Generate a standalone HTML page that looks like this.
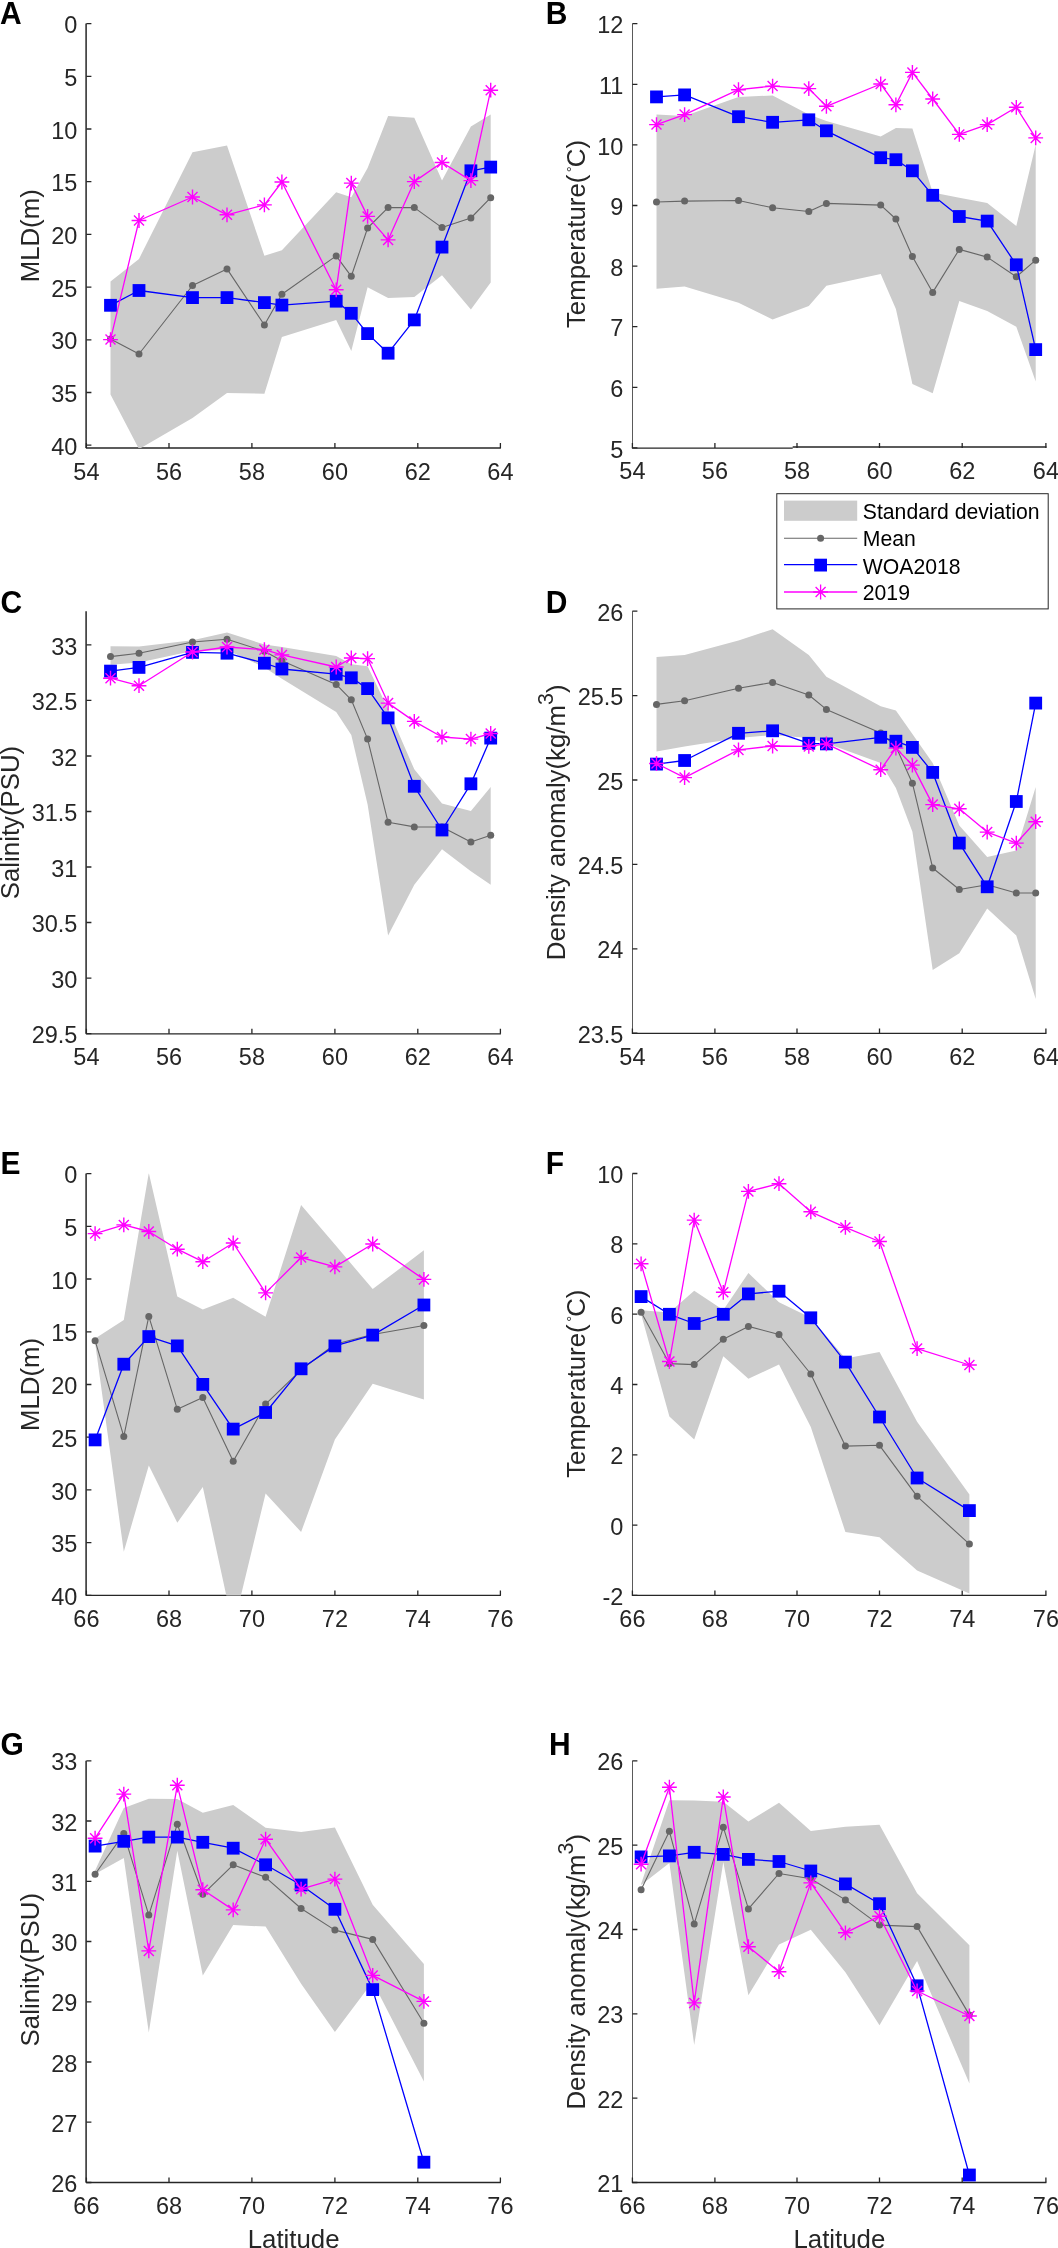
<!DOCTYPE html>
<html><head><meta charset="utf-8"><style>
html,body{margin:0;padding:0;background:#fff;}
body{width:1058px;height:2248px;overflow:hidden;}
svg{display:block;font-family:"Liberation Sans", sans-serif;will-change:transform;}
</style></head><body>
<svg width="1058" height="2248" viewBox="0 0 1058 2248">
<rect width="1058" height="2248" fill="#fff"/>
<defs>
<clipPath id="c0"><rect x="86.4" y="23.6" width="414.5" height="424.4"/></clipPath>
<clipPath id="c1"><rect x="632.4" y="23.7" width="414" height="424.2"/></clipPath>
<clipPath id="c2"><rect x="86.4" y="611.2" width="414.5" height="422.6"/></clipPath>
<clipPath id="c3"><rect x="632.4" y="611.2" width="414" height="422.2"/></clipPath>
<clipPath id="c4"><rect x="86.4" y="1173.6" width="414.5" height="421.8"/></clipPath>
<clipPath id="c5"><rect x="632.4" y="1173.5" width="414" height="421.9"/></clipPath>
<clipPath id="c6"><rect x="86.4" y="1760.8" width="414.5" height="421.7"/></clipPath>
<clipPath id="c7"><rect x="632.4" y="1760.8" width="414" height="421.7"/></clipPath>
</defs>
<path fill="none" stroke="#262626" stroke-width="1.5" d="M86.1 23.6V448"/>
<path fill="none" stroke="#262626" stroke-width="1.3" d="M85.9 448H500.9"/>
<path fill="none" stroke="#262626" stroke-width="1.3" d="M86.4 23.6h5M86.4 76.3h5M86.4 129h5M86.4 181.7h5M86.4 234.4h5M86.4 287.1h5M86.4 339.8h5M86.4 392.5h5M86.4 445.2h5M86.4 448v-5M169 448v-5M251.9 448v-5M334.9 448v-5M417.8 448v-5M500.4 448v-5"/>
<g clip-path="url(#c0)">
<path fill="#cccccc" d="M110.5 281.4L139 258.9L192.5 152.2L227 145.6L264.4 255.8L281.9 250.2L336.2 192.3L351.3 197.2L367.6 168.1L388.1 116.1L414.3 117.8L442 180.6L470.9 126.5L490.7 114.5L490.7 282.5L470.9 309.5L442 275.2L414.3 297L388.1 298.1L367.6 287.3L351.3 351.1L336.2 320L281.9 336.9L264.4 393.7L227 393L192.5 418L139 449.1L110.5 394.5Z"/>
<path fill="none" stroke="#666666" stroke-width="1.1" stroke-linejoin="round" d="M110.5 339L139 354L192.5 285.5L227 268.9L264.4 325L281.9 294.3L336.2 255.9L351.3 276.3L367.6 228L388.1 207.6L414.3 207.6L442 227.6L470.9 218L490.7 197.7"/>
<g fill="#666666"><circle cx="110.5" cy="339" r="3.5"/><circle cx="139" cy="354" r="3.5"/><circle cx="192.5" cy="285.5" r="3.5"/><circle cx="227" cy="268.9" r="3.5"/><circle cx="264.4" cy="325" r="3.5"/><circle cx="281.9" cy="294.3" r="3.5"/><circle cx="336.2" cy="255.9" r="3.5"/><circle cx="351.3" cy="276.3" r="3.5"/><circle cx="367.6" cy="228" r="3.5"/><circle cx="388.1" cy="207.6" r="3.5"/><circle cx="414.3" cy="207.6" r="3.5"/><circle cx="442" cy="227.6" r="3.5"/><circle cx="470.9" cy="218" r="3.5"/><circle cx="490.7" cy="197.7" r="3.5"/></g>
<path fill="none" stroke="#0000ff" stroke-width="1.3" stroke-linejoin="round" d="M110.5 305.3L139 290.5L192.5 297.6L227 297.6L264.4 302.6L281.9 305.1L336.2 301.2L351.3 313.3L367.6 333.6L388.1 353.2L414.3 319.9L442 247.1L470.9 170.8L490.7 167.1"/>
<g fill="#0000ff"><rect x="104.1" y="298.9" width="12.8" height="12.8"/><rect x="132.6" y="284.1" width="12.8" height="12.8"/><rect x="186.1" y="291.2" width="12.8" height="12.8"/><rect x="220.6" y="291.2" width="12.8" height="12.8"/><rect x="258" y="296.2" width="12.8" height="12.8"/><rect x="275.5" y="298.7" width="12.8" height="12.8"/><rect x="329.8" y="294.8" width="12.8" height="12.8"/><rect x="344.9" y="306.9" width="12.8" height="12.8"/><rect x="361.2" y="327.2" width="12.8" height="12.8"/><rect x="381.7" y="346.8" width="12.8" height="12.8"/><rect x="407.9" y="313.5" width="12.8" height="12.8"/><rect x="435.6" y="240.7" width="12.8" height="12.8"/><rect x="464.5" y="164.4" width="12.8" height="12.8"/><rect x="484.3" y="160.7" width="12.8" height="12.8"/></g>
<path fill="none" stroke="#ff00ff" stroke-width="1.3" stroke-linejoin="round" d="M110.5 339.6L139 220.5L192.5 197L227 214.8L264.4 204.9L281.9 182L336.2 289.8L351.3 183.1L367.6 216.4L388.1 239.9L414.3 181.6L442 162.5L470.9 180.6L490.7 90.2"/>
<path fill="none" stroke="#ff00ff" stroke-width="1.4" d="M103.1 339.6H117.9M110.5 332.2V347M105.5 334.6L115.5 344.6M105.5 344.6L115.5 334.6M131.6 220.5H146.4M139 213.1V227.9M134 215.5L144 225.5M134 225.5L144 215.5M185.1 197H199.9M192.5 189.6V204.4M187.5 192L197.5 202M187.5 202L197.5 192M219.6 214.8H234.4M227 207.4V222.2M222 209.8L232 219.8M222 219.8L232 209.8M257 204.9H271.8M264.4 197.5V212.3M259.4 199.9L269.4 209.9M259.4 209.9L269.4 199.9M274.5 182H289.3M281.9 174.6V189.4M276.9 177L286.9 187M276.9 187L286.9 177M328.8 289.8H343.6M336.2 282.4V297.2M331.2 284.8L341.2 294.8M331.2 294.8L341.2 284.8M343.9 183.1H358.7M351.3 175.7V190.5M346.3 178.1L356.3 188.1M346.3 188.1L356.3 178.1M360.2 216.4H375M367.6 209V223.8M362.6 211.4L372.6 221.4M362.6 221.4L372.6 211.4M380.7 239.9H395.5M388.1 232.5V247.3M383.1 234.9L393.1 244.9M383.1 244.9L393.1 234.9M406.9 181.6H421.7M414.3 174.2V189M409.3 176.6L419.3 186.6M409.3 186.6L419.3 176.6M434.6 162.5H449.4M442 155.1V169.9M437 157.5L447 167.5M437 167.5L447 157.5M463.5 180.6H478.3M470.9 173.2V188M465.9 175.6L475.9 185.6M465.9 185.6L475.9 175.6M483.3 90.2H498.1M490.7 82.8V97.6M485.7 85.2L495.7 95.2M485.7 95.2L495.7 85.2"/>
</g>
<g fill="#262626" font-size="23.5" text-anchor="end">
<text x="77.4" y="33.2">0</text>
<text x="77.4" y="85.9">5</text>
<text x="77.4" y="138.6">10</text>
<text x="77.4" y="191.3">15</text>
<text x="77.4" y="244">20</text>
<text x="77.4" y="296.7">25</text>
<text x="77.4" y="349.4">30</text>
<text x="77.4" y="402.1">35</text>
<text x="77.4" y="454.8">40</text>
</g>
<g fill="#262626" font-size="23.5" text-anchor="middle">
<text x="86.4" y="479.5">54</text>
<text x="169" y="479.5">56</text>
<text x="251.9" y="479.5">58</text>
<text x="334.9" y="479.5">60</text>
<text x="417.8" y="479.5">62</text>
<text x="500.4" y="479.5">64</text>
</g>
<text fill="#262626" font-size="25.8" text-anchor="middle" transform="translate(38.8 235.8) rotate(-90)">MLD(m)</text>
<text transform="translate(0 24) scale(1 1.035)" font-size="30.0" font-weight="bold" fill="#000">A</text>
<path fill="none" stroke="#5a5a5a" stroke-width="1" d="M632.5 23.7V447.9"/>
<path fill="none" stroke="#262626" stroke-width="1.3" d="M631.9 448.2H792.7M792.7 447H1046.4"/>
<path fill="none" stroke="#262626" stroke-width="1.3" d="M632.4 447.9h5M632.4 387.3h5M632.4 326.7h5M632.4 266.1h5M632.4 205.5h5M632.4 144.9h5M632.4 84.3h5M632.4 23.7h5M632.4 447.9v-5M714.9 447.9v-5M797 447.9v-5M879.5 447.9v-5M962.2 447.9v-5M1045.9 447.9v-5"/>
<g clip-path="url(#c1)">
<path fill="#cccccc" d="M656.5 114.6L684.6 116.1L738.5 96.9L772.6 95.5L808.8 114.6L826.4 120.9L880.7 136.4L895.9 128.1L912.4 128.5L932.7 192.6L959.3 197.8L987.2 203L1016.3 225.9L1035.7 144.8L1035.7 381.4L1016.3 326.7L987.2 311.1L959.3 301.1L932.7 393.3L912.4 383.9L895.9 309L880.7 274.1L826.4 285.7L808.8 305.9L772.6 319.4L738.5 302.8L684.6 286.6L656.5 288.7Z"/>
<path fill="none" stroke="#666666" stroke-width="1.1" stroke-linejoin="round" d="M656.5 202L684.6 201.1L738.5 200.5L772.6 207.8L808.8 211.5L826.4 203.4L880.7 205.1L895.9 219L912.4 256.4L932.7 292.4L959.3 249.4L987.2 257.1L1016.3 276.8L1035.7 260.2"/>
<g fill="#666666"><circle cx="656.5" cy="202" r="3.5"/><circle cx="684.6" cy="201.1" r="3.5"/><circle cx="738.5" cy="200.5" r="3.5"/><circle cx="772.6" cy="207.8" r="3.5"/><circle cx="808.8" cy="211.5" r="3.5"/><circle cx="826.4" cy="203.4" r="3.5"/><circle cx="880.7" cy="205.1" r="3.5"/><circle cx="895.9" cy="219" r="3.5"/><circle cx="912.4" cy="256.4" r="3.5"/><circle cx="932.7" cy="292.4" r="3.5"/><circle cx="959.3" cy="249.4" r="3.5"/><circle cx="987.2" cy="257.1" r="3.5"/><circle cx="1016.3" cy="276.8" r="3.5"/><circle cx="1035.7" cy="260.2" r="3.5"/></g>
<path fill="none" stroke="#0000ff" stroke-width="1.3" stroke-linejoin="round" d="M656.5 96.9L684.6 94.9L738.5 116.7L772.6 122.3L808.8 119.8L826.4 130.8L880.7 157.7L895.9 159.7L912.4 170.8L932.7 195.3L959.3 216.5L987.2 221.1L1016.3 264.8L1035.7 349.6"/>
<g fill="#0000ff"><rect x="650.1" y="90.5" width="12.8" height="12.8"/><rect x="678.2" y="88.5" width="12.8" height="12.8"/><rect x="732.1" y="110.3" width="12.8" height="12.8"/><rect x="766.2" y="115.9" width="12.8" height="12.8"/><rect x="802.4" y="113.4" width="12.8" height="12.8"/><rect x="820" y="124.4" width="12.8" height="12.8"/><rect x="874.3" y="151.3" width="12.8" height="12.8"/><rect x="889.5" y="153.3" width="12.8" height="12.8"/><rect x="906" y="164.4" width="12.8" height="12.8"/><rect x="926.3" y="188.9" width="12.8" height="12.8"/><rect x="952.9" y="210.1" width="12.8" height="12.8"/><rect x="980.8" y="214.7" width="12.8" height="12.8"/><rect x="1009.9" y="258.4" width="12.8" height="12.8"/><rect x="1029.3" y="343.2" width="12.8" height="12.8"/></g>
<path fill="none" stroke="#ff00ff" stroke-width="1.3" stroke-linejoin="round" d="M656.5 124.6L684.6 114.6L738.5 89.7L772.6 86.1L808.8 88.6L826.4 106.3L880.7 84L895.9 104.8L912.4 72.4L932.7 99L959.3 134.4L987.2 124.6L1016.3 107.3L1035.7 137.9"/>
<path fill="none" stroke="#ff00ff" stroke-width="1.4" d="M649.1 124.6H663.9M656.5 117.2V132M651.5 119.6L661.5 129.6M651.5 129.6L661.5 119.6M677.2 114.6H692M684.6 107.2V122M679.6 109.6L689.6 119.6M679.6 119.6L689.6 109.6M731.1 89.7H745.9M738.5 82.3V97.1M733.5 84.7L743.5 94.7M733.5 94.7L743.5 84.7M765.2 86.1H780M772.6 78.7V93.5M767.6 81.1L777.6 91.1M767.6 91.1L777.6 81.1M801.4 88.6H816.2M808.8 81.2V96M803.8 83.6L813.8 93.6M803.8 93.6L813.8 83.6M819 106.3H833.8M826.4 98.9V113.7M821.4 101.3L831.4 111.3M821.4 111.3L831.4 101.3M873.3 84H888.1M880.7 76.6V91.4M875.7 79L885.7 89M875.7 89L885.7 79M888.5 104.8H903.3M895.9 97.4V112.2M890.9 99.8L900.9 109.8M890.9 109.8L900.9 99.8M905 72.4H919.8M912.4 65V79.8M907.4 67.4L917.4 77.4M907.4 77.4L917.4 67.4M925.3 99H940.1M932.7 91.6V106.4M927.7 94L937.7 104M927.7 104L937.7 94M951.9 134.4H966.7M959.3 127V141.8M954.3 129.4L964.3 139.4M954.3 139.4L964.3 129.4M979.8 124.6H994.6M987.2 117.2V132M982.2 119.6L992.2 129.6M982.2 129.6L992.2 119.6M1008.9 107.3H1023.7M1016.3 99.9V114.7M1011.3 102.3L1021.3 112.3M1011.3 112.3L1021.3 102.3M1028.3 137.9H1043.1M1035.7 130.5V145.3M1030.7 132.9L1040.7 142.9M1030.7 142.9L1040.7 132.9"/>
</g>
<g fill="#262626" font-size="23.5" text-anchor="end">
<text x="623.4" y="457.5">5</text>
<text x="623.4" y="396.9">6</text>
<text x="623.4" y="336.3">7</text>
<text x="623.4" y="275.7">8</text>
<text x="623.4" y="215.1">9</text>
<text x="623.4" y="154.5">10</text>
<text x="623.4" y="93.9">11</text>
<text x="623.4" y="33.3">12</text>
</g>
<g fill="#262626" font-size="23.5" text-anchor="middle">
<text x="632.4" y="479.4">54</text>
<text x="714.9" y="479.4">56</text>
<text x="797" y="479.4">58</text>
<text x="879.5" y="479.4">60</text>
<text x="962.2" y="479.4">62</text>
<text x="1045.9" y="479.4">64</text>
</g>
<text fill="#262626" font-size="25.8" text-anchor="middle" transform="translate(584.9 234) rotate(-90)">Temperature(<tspan font-size="15" dx="2.5" dy="-8.2">°</tspan><tspan dx="-1" dy="8.2">C)</tspan></text>
<text transform="translate(545.8 24) scale(1 1.035)" font-size="30.0" font-weight="bold" fill="#000">B</text>
<path fill="none" stroke="#262626" stroke-width="1.5" d="M86.1 611.2V1033.8"/>
<path fill="none" stroke="#262626" stroke-width="1.3" d="M85.9 1033.8H500.9"/>
<path fill="none" stroke="#262626" stroke-width="1.3" d="M86.4 1033.6h5M86.4 978.1h5M86.4 922.5h5M86.4 867h5M86.4 811.5h5M86.4 756h5M86.4 700.4h5M86.4 644.9h5M86.4 1033.8v-5M169 1033.8v-5M251.9 1033.8v-5M334.9 1033.8v-5M417.8 1033.8v-5M500.4 1033.8v-5"/>
<g clip-path="url(#c2)">
<path fill="#cccccc" d="M110.5 646.2L139 646.6L192.5 640.2L227 632.5L264.4 644.5L281.9 647L336.2 655.9L351.3 664.3L367.6 666.3L388.1 709L414.3 769.3L442 803.6L470.9 810.9L490.7 787L490.7 884.7L470.9 871.2L442 849.3L414.3 884.7L388.1 935.6L367.6 804.6L351.3 735L336.2 712.1L281.9 678.8L264.4 667.4L227 650L192.5 651L139 662.5L110.5 664.7Z"/>
<path fill="none" stroke="#666666" stroke-width="1.1" stroke-linejoin="round" d="M110.5 656.6L139 653.2L192.5 642L227 639.3L264.4 651.2L281.9 660.7L336.2 684.4L351.3 699.8L367.6 739.1L388.1 822.3L414.3 826.9L442 827L470.9 842.1L490.7 835.2"/>
<g fill="#666666"><circle cx="110.5" cy="656.6" r="3.5"/><circle cx="139" cy="653.2" r="3.5"/><circle cx="192.5" cy="642" r="3.5"/><circle cx="227" cy="639.3" r="3.5"/><circle cx="264.4" cy="651.2" r="3.5"/><circle cx="281.9" cy="660.7" r="3.5"/><circle cx="336.2" cy="684.4" r="3.5"/><circle cx="351.3" cy="699.8" r="3.5"/><circle cx="367.6" cy="739.1" r="3.5"/><circle cx="388.1" cy="822.3" r="3.5"/><circle cx="414.3" cy="826.9" r="3.5"/><circle cx="442" cy="827" r="3.5"/><circle cx="470.9" cy="842.1" r="3.5"/><circle cx="490.7" cy="835.2" r="3.5"/></g>
<path fill="none" stroke="#0000ff" stroke-width="1.3" stroke-linejoin="round" d="M110.5 671.1L139 667.4L192.5 652.4L227 653.2L264.4 663.2L281.9 669L336.2 674.2L351.3 677.8L367.6 688.6L388.1 717.9L414.3 786.3L442 830L470.9 783.8L490.7 738.1"/>
<g fill="#0000ff"><rect x="104.1" y="664.7" width="12.8" height="12.8"/><rect x="132.6" y="661" width="12.8" height="12.8"/><rect x="186.1" y="646" width="12.8" height="12.8"/><rect x="220.6" y="646.8" width="12.8" height="12.8"/><rect x="258" y="656.8" width="12.8" height="12.8"/><rect x="275.5" y="662.6" width="12.8" height="12.8"/><rect x="329.8" y="667.8" width="12.8" height="12.8"/><rect x="344.9" y="671.4" width="12.8" height="12.8"/><rect x="361.2" y="682.2" width="12.8" height="12.8"/><rect x="381.7" y="711.5" width="12.8" height="12.8"/><rect x="407.9" y="779.9" width="12.8" height="12.8"/><rect x="435.6" y="823.6" width="12.8" height="12.8"/><rect x="464.5" y="777.4" width="12.8" height="12.8"/><rect x="484.3" y="731.7" width="12.8" height="12.8"/></g>
<path fill="none" stroke="#ff00ff" stroke-width="1.3" stroke-linejoin="round" d="M110.5 678.2L139 685.7L192.5 652L227 647L264.4 649.7L281.9 654.9L336.2 667L351.3 658L367.6 658.6L388.1 703.1L414.3 721.4L442 737L470.9 739.1L490.7 733.5"/>
<path fill="none" stroke="#ff00ff" stroke-width="1.4" d="M103.1 678.2H117.9M110.5 670.8V685.6M105.5 673.2L115.5 683.2M105.5 683.2L115.5 673.2M131.6 685.7H146.4M139 678.3V693.1M134 680.7L144 690.7M134 690.7L144 680.7M185.1 652H199.9M192.5 644.6V659.4M187.5 647L197.5 657M187.5 657L197.5 647M219.6 647H234.4M227 639.6V654.4M222 642L232 652M222 652L232 642M257 649.7H271.8M264.4 642.3V657.1M259.4 644.7L269.4 654.7M259.4 654.7L269.4 644.7M274.5 654.9H289.3M281.9 647.5V662.3M276.9 649.9L286.9 659.9M276.9 659.9L286.9 649.9M328.8 667H343.6M336.2 659.6V674.4M331.2 662L341.2 672M331.2 672L341.2 662M343.9 658H358.7M351.3 650.6V665.4M346.3 653L356.3 663M346.3 663L356.3 653M360.2 658.6H375M367.6 651.2V666M362.6 653.6L372.6 663.6M362.6 663.6L372.6 653.6M380.7 703.1H395.5M388.1 695.7V710.5M383.1 698.1L393.1 708.1M383.1 708.1L393.1 698.1M406.9 721.4H421.7M414.3 714V728.8M409.3 716.4L419.3 726.4M409.3 726.4L419.3 716.4M434.6 737H449.4M442 729.6V744.4M437 732L447 742M437 742L447 732M463.5 739.1H478.3M470.9 731.7V746.5M465.9 734.1L475.9 744.1M465.9 744.1L475.9 734.1M483.3 733.5H498.1M490.7 726.1V740.9M485.7 728.5L495.7 738.5M485.7 738.5L495.7 728.5"/>
</g>
<g fill="#262626" font-size="23.5" text-anchor="end">
<text x="77.4" y="1043.2">29.5</text>
<text x="77.4" y="987.7">30</text>
<text x="77.4" y="932.1">30.5</text>
<text x="77.4" y="876.6">31</text>
<text x="77.4" y="821.1">31.5</text>
<text x="77.4" y="765.6">32</text>
<text x="77.4" y="710">32.5</text>
<text x="77.4" y="654.5">33</text>
</g>
<g fill="#262626" font-size="23.5" text-anchor="middle">
<text x="86.4" y="1065.3">54</text>
<text x="169" y="1065.3">56</text>
<text x="251.9" y="1065.3">58</text>
<text x="334.9" y="1065.3">60</text>
<text x="417.8" y="1065.3">62</text>
<text x="500.4" y="1065.3">64</text>
</g>
<text fill="#262626" font-size="25.8" text-anchor="middle" transform="translate(18.9 822.5) rotate(-90)">Salinity(PSU)</text>
<text transform="translate(0.6 612.8) scale(1 1.035)" font-size="30.0" font-weight="bold" fill="#000">C</text>
<path fill="none" stroke="#5a5a5a" stroke-width="1" d="M632.5 611.2V1033.4"/>
<path fill="none" stroke="#262626" stroke-width="1.3" d="M631.9 1033.4H1046.4"/>
<path fill="none" stroke="#262626" stroke-width="1.3" d="M632.4 1033.2h5M632.4 948.8h5M632.4 864.4h5M632.4 780h5M632.4 695.6h5M632.4 611.2h5M632.4 1033.4v-5M714.9 1033.4v-5M797 1033.4v-5M879.5 1033.4v-5M962.2 1033.4v-5M1045.9 1033.4v-5"/>
<g clip-path="url(#c3)">
<path fill="#cccccc" d="M656.5 657L684.6 654.9L738.5 640.4L772.6 629.3L808.8 654.9L826.4 676.7L880.7 706.3L895.9 710.6L912.4 733.9L932.7 763L959.3 825.4L987.2 857L1016.3 850.4L1035.7 787L1035.7 999L1016.3 935.6L987.2 908.6L959.3 953.3L932.7 970L912.4 831.7L895.9 788L880.7 763L826.4 743.3L808.8 738.1L772.6 735L738.5 738.1L684.6 746.4L656.5 751.6Z"/>
<path fill="none" stroke="#666666" stroke-width="1.1" stroke-linejoin="round" d="M656.5 704.4L684.6 700.7L738.5 688.2L772.6 682.4L808.8 695L826.4 709.4L880.7 733L895.9 746.4L912.4 783.2L932.7 868L959.3 889.5L987.2 884.7L1016.3 893L1035.7 893"/>
<g fill="#666666"><circle cx="656.5" cy="704.4" r="3.5"/><circle cx="684.6" cy="700.7" r="3.5"/><circle cx="738.5" cy="688.2" r="3.5"/><circle cx="772.6" cy="682.4" r="3.5"/><circle cx="808.8" cy="695" r="3.5"/><circle cx="826.4" cy="709.4" r="3.5"/><circle cx="880.7" cy="733" r="3.5"/><circle cx="895.9" cy="746.4" r="3.5"/><circle cx="912.4" cy="783.2" r="3.5"/><circle cx="932.7" cy="868" r="3.5"/><circle cx="959.3" cy="889.5" r="3.5"/><circle cx="987.2" cy="884.7" r="3.5"/><circle cx="1016.3" cy="893" r="3.5"/><circle cx="1035.7" cy="893" r="3.5"/></g>
<path fill="none" stroke="#0000ff" stroke-width="1.3" stroke-linejoin="round" d="M656.5 764.1L684.6 760.5L738.5 733.3L772.6 730.8L808.8 743.3L826.4 743.9L880.7 737.3L895.9 741.2L912.4 747.4L932.7 772.4L959.3 843.1L987.2 886.8L1016.3 801.5L1035.7 703.1"/>
<g fill="#0000ff"><rect x="650.1" y="757.7" width="12.8" height="12.8"/><rect x="678.2" y="754.1" width="12.8" height="12.8"/><rect x="732.1" y="726.9" width="12.8" height="12.8"/><rect x="766.2" y="724.4" width="12.8" height="12.8"/><rect x="802.4" y="736.9" width="12.8" height="12.8"/><rect x="820" y="737.5" width="12.8" height="12.8"/><rect x="874.3" y="730.9" width="12.8" height="12.8"/><rect x="889.5" y="734.8" width="12.8" height="12.8"/><rect x="906" y="741" width="12.8" height="12.8"/><rect x="926.3" y="766" width="12.8" height="12.8"/><rect x="952.9" y="836.7" width="12.8" height="12.8"/><rect x="980.8" y="880.4" width="12.8" height="12.8"/><rect x="1009.9" y="795.1" width="12.8" height="12.8"/><rect x="1029.3" y="696.7" width="12.8" height="12.8"/></g>
<path fill="none" stroke="#ff00ff" stroke-width="1.3" stroke-linejoin="round" d="M656.5 763.5L684.6 777.6L738.5 749.9L772.6 746L808.8 746.4L826.4 743.9L880.7 769.7L895.9 748.1L912.4 765.1L932.7 804.6L959.3 808.8L987.2 832.1L1016.3 843.1L1035.7 821.7"/>
<path fill="none" stroke="#ff00ff" stroke-width="1.4" d="M649.1 763.5H663.9M656.5 756.1V770.9M651.5 758.5L661.5 768.5M651.5 768.5L661.5 758.5M677.2 777.6H692M684.6 770.2V785M679.6 772.6L689.6 782.6M679.6 782.6L689.6 772.6M731.1 749.9H745.9M738.5 742.5V757.3M733.5 744.9L743.5 754.9M733.5 754.9L743.5 744.9M765.2 746H780M772.6 738.6V753.4M767.6 741L777.6 751M767.6 751L777.6 741M801.4 746.4H816.2M808.8 739V753.8M803.8 741.4L813.8 751.4M803.8 751.4L813.8 741.4M819 743.9H833.8M826.4 736.5V751.3M821.4 738.9L831.4 748.9M821.4 748.9L831.4 738.9M873.3 769.7H888.1M880.7 762.3V777.1M875.7 764.7L885.7 774.7M875.7 774.7L885.7 764.7M888.5 748.1H903.3M895.9 740.7V755.5M890.9 743.1L900.9 753.1M890.9 753.1L900.9 743.1M905 765.1H919.8M912.4 757.7V772.5M907.4 760.1L917.4 770.1M907.4 770.1L917.4 760.1M925.3 804.6H940.1M932.7 797.2V812M927.7 799.6L937.7 809.6M927.7 809.6L937.7 799.6M951.9 808.8H966.7M959.3 801.4V816.2M954.3 803.8L964.3 813.8M954.3 813.8L964.3 803.8M979.8 832.1H994.6M987.2 824.7V839.5M982.2 827.1L992.2 837.1M982.2 837.1L992.2 827.1M1008.9 843.1H1023.7M1016.3 835.7V850.5M1011.3 838.1L1021.3 848.1M1011.3 848.1L1021.3 838.1M1028.3 821.7H1043.1M1035.7 814.3V829.1M1030.7 816.7L1040.7 826.7M1030.7 826.7L1040.7 816.7"/>
</g>
<g fill="#262626" font-size="23.5" text-anchor="end">
<text x="623.4" y="1042.8">23.5</text>
<text x="623.4" y="958.4">24</text>
<text x="623.4" y="874">24.5</text>
<text x="623.4" y="789.6">25</text>
<text x="623.4" y="705.2">25.5</text>
<text x="623.4" y="620.8">26</text>
</g>
<g fill="#262626" font-size="23.5" text-anchor="middle">
<text x="632.4" y="1064.9">54</text>
<text x="714.9" y="1064.9">56</text>
<text x="797" y="1064.9">58</text>
<text x="879.5" y="1064.9">60</text>
<text x="962.2" y="1064.9">62</text>
<text x="1045.9" y="1064.9">64</text>
</g>
<text fill="#262626" font-size="25.8" text-anchor="middle" transform="translate(564.9 822.3) rotate(-90)">Density anomaly(kg/m<tspan font-size="21.5" dy="-12">3</tspan><tspan dy="12">)</tspan></text>
<text transform="translate(545.8 612.8) scale(1 1.035)" font-size="30.0" font-weight="bold" fill="#000">D</text>
<path fill="none" stroke="#262626" stroke-width="1.5" d="M86.1 1173.6V1595.4"/>
<path fill="none" stroke="#262626" stroke-width="1.3" d="M85.9 1595.4H500.9"/>
<path fill="none" stroke="#262626" stroke-width="1.3" d="M86.4 1173.6h5M86.4 1226.3h5M86.4 1279h5M86.4 1331.8h5M86.4 1384.5h5M86.4 1437.2h5M86.4 1489.9h5M86.4 1542.7h5M86.4 1595.4h5M86.4 1595.4v-5M169 1595.4v-5M251.9 1595.4v-5M334.9 1595.4v-5M417.8 1595.4v-5M500.4 1595.4v-5"/>
<g clip-path="url(#c4)">
<path fill="#cccccc" d="M95.1 1338.6L123.8 1319.9L148.8 1172.9L177.3 1296.4L202.8 1309.5L233.2 1297.7L265.6 1316.8L301.1 1204.9L334.9 1244.6L372.7 1289.1L423.9 1250.3L423.9 1399.6L372.7 1383.8L334.9 1439.5L301.1 1532L265.6 1493.5L233.2 1627.5L202.8 1486.9L177.3 1522.7L148.8 1465.5L123.8 1551.8L95.1 1342.7Z"/>
<path fill="none" stroke="#666666" stroke-width="1.1" stroke-linejoin="round" d="M95.1 1340.7L123.8 1436.4L148.8 1316.4L177.3 1409.3L202.8 1397.5L233.2 1461.3L265.6 1404.1L301.1 1369.8L334.9 1344.2L372.7 1334.5L423.9 1325.5"/>
<g fill="#666666"><circle cx="95.1" cy="1340.7" r="3.5"/><circle cx="123.8" cy="1436.4" r="3.5"/><circle cx="148.8" cy="1316.4" r="3.5"/><circle cx="177.3" cy="1409.3" r="3.5"/><circle cx="202.8" cy="1397.5" r="3.5"/><circle cx="233.2" cy="1461.3" r="3.5"/><circle cx="265.6" cy="1404.1" r="3.5"/><circle cx="301.1" cy="1369.8" r="3.5"/><circle cx="334.9" cy="1344.2" r="3.5"/><circle cx="372.7" cy="1334.5" r="3.5"/><circle cx="423.9" cy="1325.5" r="3.5"/></g>
<path fill="none" stroke="#0000ff" stroke-width="1.3" stroke-linejoin="round" d="M95.1 1439.9L123.8 1364.2L148.8 1336.6L177.3 1345.9L202.8 1384.4L233.2 1429.1L265.6 1412.5L301.1 1368.8L334.9 1345.9L372.7 1335.1L423.9 1305"/>
<g fill="#0000ff"><rect x="88.7" y="1433.5" width="12.8" height="12.8"/><rect x="117.4" y="1357.8" width="12.8" height="12.8"/><rect x="142.4" y="1330.2" width="12.8" height="12.8"/><rect x="170.9" y="1339.5" width="12.8" height="12.8"/><rect x="196.4" y="1378" width="12.8" height="12.8"/><rect x="226.8" y="1422.7" width="12.8" height="12.8"/><rect x="259.2" y="1406.1" width="12.8" height="12.8"/><rect x="294.7" y="1362.4" width="12.8" height="12.8"/><rect x="328.5" y="1339.5" width="12.8" height="12.8"/><rect x="366.3" y="1328.7" width="12.8" height="12.8"/><rect x="417.5" y="1298.6" width="12.8" height="12.8"/></g>
<path fill="none" stroke="#ff00ff" stroke-width="1.3" stroke-linejoin="round" d="M95.1 1233.6L123.8 1224.9L148.8 1231.5L177.3 1249.2L202.8 1261.7L233.2 1243L265.6 1292.9L301.1 1257.5L334.9 1266.9L372.7 1244L423.9 1279.4"/>
<path fill="none" stroke="#ff00ff" stroke-width="1.4" d="M87.7 1233.6H102.5M95.1 1226.2V1241M90.1 1228.6L100.1 1238.6M90.1 1238.6L100.1 1228.6M116.4 1224.9H131.2M123.8 1217.5V1232.3M118.8 1219.9L128.8 1229.9M118.8 1229.9L128.8 1219.9M141.4 1231.5H156.2M148.8 1224.1V1238.9M143.8 1226.5L153.8 1236.5M143.8 1236.5L153.8 1226.5M169.9 1249.2H184.7M177.3 1241.8V1256.6M172.3 1244.2L182.3 1254.2M172.3 1254.2L182.3 1244.2M195.4 1261.7H210.2M202.8 1254.3V1269.1M197.8 1256.7L207.8 1266.7M197.8 1266.7L207.8 1256.7M225.8 1243H240.6M233.2 1235.6V1250.4M228.2 1238L238.2 1248M228.2 1248L238.2 1238M258.2 1292.9H273M265.6 1285.5V1300.3M260.6 1287.9L270.6 1297.9M260.6 1297.9L270.6 1287.9M293.7 1257.5H308.5M301.1 1250.1V1264.9M296.1 1252.5L306.1 1262.5M296.1 1262.5L306.1 1252.5M327.5 1266.9H342.3M334.9 1259.5V1274.3M329.9 1261.9L339.9 1271.9M329.9 1271.9L339.9 1261.9M365.3 1244H380.1M372.7 1236.6V1251.4M367.7 1239L377.7 1249M367.7 1249L377.7 1239M416.5 1279.4H431.3M423.9 1272V1286.8M418.9 1274.4L428.9 1284.4M418.9 1284.4L428.9 1274.4"/>
</g>
<g fill="#262626" font-size="23.5" text-anchor="end">
<text x="77.4" y="1183.2">0</text>
<text x="77.4" y="1235.9">5</text>
<text x="77.4" y="1288.6">10</text>
<text x="77.4" y="1341.4">15</text>
<text x="77.4" y="1394.1">20</text>
<text x="77.4" y="1446.8">25</text>
<text x="77.4" y="1499.5">30</text>
<text x="77.4" y="1552.3">35</text>
<text x="77.4" y="1605">40</text>
</g>
<g fill="#262626" font-size="23.5" text-anchor="middle">
<text x="86.4" y="1626.9">66</text>
<text x="169" y="1626.9">68</text>
<text x="251.9" y="1626.9">70</text>
<text x="334.9" y="1626.9">72</text>
<text x="417.8" y="1626.9">74</text>
<text x="500.4" y="1626.9">76</text>
</g>
<text fill="#262626" font-size="25.8" text-anchor="middle" transform="translate(38.8 1384.5) rotate(-90)">MLD(m)</text>
<text transform="translate(0.6 1173.7) scale(1 1.035)" font-size="30.0" font-weight="bold" fill="#000">E</text>
<path fill="none" stroke="#5a5a5a" stroke-width="1" d="M632.5 1173.5V1595.4"/>
<path fill="none" stroke="#262626" stroke-width="1.3" d="M631.9 1595.4H1046.4"/>
<path fill="none" stroke="#262626" stroke-width="1.3" d="M632.4 1595.4h5M632.4 1525.1h5M632.4 1454.8h5M632.4 1384.5h5M632.4 1314.1h5M632.4 1243.8h5M632.4 1173.5h5M632.4 1595.4v-5M714.9 1595.4v-5M797 1595.4v-5M879.5 1595.4v-5M962.2 1595.4v-5M1045.9 1595.4v-5"/>
<g clip-path="url(#c5)">
<path fill="#cccccc" d="M641.1 1310.2L669.4 1312.6L694.2 1290.8L723.3 1310L748.4 1273.1L779 1302.2L810.8 1317.8L845.4 1358.4L879.5 1352.1L917.1 1421.8L969.4 1494.6L969.4 1593.4L917.1 1570.5L879.5 1537.2L845.4 1532L810.8 1427L779 1364.6L748.4 1378.8L723.3 1356.3L694.2 1439.5L669.4 1416.6L641.1 1314.2Z"/>
<path fill="none" stroke="#666666" stroke-width="1.1" stroke-linejoin="round" d="M641.1 1312.2L669.4 1363.6L694.2 1364.6L723.3 1339.3L748.4 1326.4L779 1334.5L810.8 1374L845.4 1446.1L879.5 1445.3L917.1 1496.3L969.4 1544.1"/>
<g fill="#666666"><circle cx="641.1" cy="1312.2" r="3.5"/><circle cx="669.4" cy="1363.6" r="3.5"/><circle cx="694.2" cy="1364.6" r="3.5"/><circle cx="723.3" cy="1339.3" r="3.5"/><circle cx="748.4" cy="1326.4" r="3.5"/><circle cx="779" cy="1334.5" r="3.5"/><circle cx="810.8" cy="1374" r="3.5"/><circle cx="845.4" cy="1446.1" r="3.5"/><circle cx="879.5" cy="1445.3" r="3.5"/><circle cx="917.1" cy="1496.3" r="3.5"/><circle cx="969.4" cy="1544.1" r="3.5"/></g>
<path fill="none" stroke="#0000ff" stroke-width="1.3" stroke-linejoin="round" d="M641.1 1296.6L669.4 1314.3L694.2 1323.5L723.3 1314.3L748.4 1293.9L779 1291.2L810.8 1317.8L845.4 1362.1L879.5 1417L917.1 1478L969.4 1510.6"/>
<g fill="#0000ff"><rect x="634.7" y="1290.2" width="12.8" height="12.8"/><rect x="663" y="1307.9" width="12.8" height="12.8"/><rect x="687.8" y="1317.1" width="12.8" height="12.8"/><rect x="716.9" y="1307.9" width="12.8" height="12.8"/><rect x="742" y="1287.5" width="12.8" height="12.8"/><rect x="772.6" y="1284.8" width="12.8" height="12.8"/><rect x="804.4" y="1311.4" width="12.8" height="12.8"/><rect x="839" y="1355.7" width="12.8" height="12.8"/><rect x="873.1" y="1410.6" width="12.8" height="12.8"/><rect x="910.7" y="1471.6" width="12.8" height="12.8"/><rect x="963" y="1504.2" width="12.8" height="12.8"/></g>
<path fill="none" stroke="#ff00ff" stroke-width="1.3" stroke-linejoin="round" d="M641.1 1263.8L669.4 1361.5L694.2 1220.1L723.3 1292.3L748.4 1191.4L779 1183.7L810.8 1211.8L845.4 1227.4L879.5 1241.5L917.1 1348.6L969.4 1365"/>
<path fill="none" stroke="#ff00ff" stroke-width="1.4" d="M633.7 1263.8H648.5M641.1 1256.4V1271.2M636.1 1258.8L646.1 1268.8M636.1 1268.8L646.1 1258.8M662 1361.5H676.8M669.4 1354.1V1368.9M664.4 1356.5L674.4 1366.5M664.4 1366.5L674.4 1356.5M686.8 1220.1H701.6M694.2 1212.7V1227.5M689.2 1215.1L699.2 1225.1M689.2 1225.1L699.2 1215.1M715.9 1292.3H730.7M723.3 1284.9V1299.7M718.3 1287.3L728.3 1297.3M718.3 1297.3L728.3 1287.3M741 1191.4H755.8M748.4 1184V1198.8M743.4 1186.4L753.4 1196.4M743.4 1196.4L753.4 1186.4M771.6 1183.7H786.4M779 1176.3V1191.1M774 1178.7L784 1188.7M774 1188.7L784 1178.7M803.4 1211.8H818.2M810.8 1204.4V1219.2M805.8 1206.8L815.8 1216.8M805.8 1216.8L815.8 1206.8M838 1227.4H852.8M845.4 1220V1234.8M840.4 1222.4L850.4 1232.4M840.4 1232.4L850.4 1222.4M872.1 1241.5H886.9M879.5 1234.1V1248.9M874.5 1236.5L884.5 1246.5M874.5 1246.5L884.5 1236.5M909.7 1348.6H924.5M917.1 1341.2V1356M912.1 1343.6L922.1 1353.6M912.1 1353.6L922.1 1343.6M962 1365H976.8M969.4 1357.6V1372.4M964.4 1360L974.4 1370M964.4 1370L974.4 1360"/>
</g>
<g fill="#262626" font-size="23.5" text-anchor="end">
<text x="623.4" y="1605">-2</text>
<text x="623.4" y="1534.7">0</text>
<text x="623.4" y="1464.4">2</text>
<text x="623.4" y="1394.1">4</text>
<text x="623.4" y="1323.7">6</text>
<text x="623.4" y="1253.4">8</text>
<text x="623.4" y="1183.1">10</text>
</g>
<g fill="#262626" font-size="23.5" text-anchor="middle">
<text x="632.4" y="1626.9">66</text>
<text x="714.9" y="1626.9">68</text>
<text x="797" y="1626.9">70</text>
<text x="879.5" y="1626.9">72</text>
<text x="962.2" y="1626.9">74</text>
<text x="1045.9" y="1626.9">76</text>
</g>
<text fill="#262626" font-size="25.8" text-anchor="middle" transform="translate(584.9 1383.7) rotate(-90)">Temperature(<tspan font-size="15" dx="2.5" dy="-8.2">°</tspan><tspan dx="-1" dy="8.2">C)</tspan></text>
<text transform="translate(545.8 1173.7) scale(1 1.035)" font-size="30.0" font-weight="bold" fill="#000">F</text>
<path fill="none" stroke="#262626" stroke-width="1.5" d="M86.1 1760.8V2182.5"/>
<path fill="none" stroke="#262626" stroke-width="1.3" d="M85.9 2182.5H500.9"/>
<path fill="none" stroke="#262626" stroke-width="1.3" d="M86.4 2182.5h5M86.4 2122.2h5M86.4 2062h5M86.4 2001.8h5M86.4 1941.5h5M86.4 1881.3h5M86.4 1821h5M86.4 1760.8h5M86.4 2182.5v-5M169 2182.5v-5M251.9 2182.5v-5M334.9 2182.5v-5M417.8 2182.5v-5M500.4 2182.5v-5"/>
<g clip-path="url(#c6)">
<path fill="#cccccc" d="M95.1 1870.4L123.8 1808L148.8 1798.7L177.3 1799.1L202.8 1812.8L233.2 1804.9L265.6 1827.8L301.1 1831.9L334.9 1827.4L372.7 1904.7L423.9 1964L423.9 2081.5L372.7 1981.7L334.9 2032L301.1 1983.7L265.6 1926.6L233.2 1925.1L202.8 1975.4L177.3 1850.7L148.8 2032.6L123.8 1857.9L95.1 1874Z"/>
<path fill="none" stroke="#666666" stroke-width="1.1" stroke-linejoin="round" d="M95.1 1874.2L123.8 1833.6L148.8 1915.1L177.3 1824.2L202.8 1894.3L233.2 1864.8L265.6 1877.3L301.1 1908.5L334.9 1930.1L372.7 1939.4L423.9 2023.2"/>
<g fill="#666666"><circle cx="95.1" cy="1874.2" r="3.5"/><circle cx="123.8" cy="1833.6" r="3.5"/><circle cx="148.8" cy="1915.1" r="3.5"/><circle cx="177.3" cy="1824.2" r="3.5"/><circle cx="202.8" cy="1894.3" r="3.5"/><circle cx="233.2" cy="1864.8" r="3.5"/><circle cx="265.6" cy="1877.3" r="3.5"/><circle cx="301.1" cy="1908.5" r="3.5"/><circle cx="334.9" cy="1930.1" r="3.5"/><circle cx="372.7" cy="1939.4" r="3.5"/><circle cx="423.9" cy="2023.2" r="3.5"/></g>
<path fill="none" stroke="#0000ff" stroke-width="1.3" stroke-linejoin="round" d="M95.1 1846.1L123.8 1841.3L148.8 1837.1L177.3 1837.1L202.8 1842.3L233.2 1848.2L265.6 1864.8L301.1 1885L334.9 1909.3L372.7 1989.6L423.9 2162.2"/>
<g fill="#0000ff"><rect x="88.7" y="1839.7" width="12.8" height="12.8"/><rect x="117.4" y="1834.9" width="12.8" height="12.8"/><rect x="142.4" y="1830.7" width="12.8" height="12.8"/><rect x="170.9" y="1830.7" width="12.8" height="12.8"/><rect x="196.4" y="1835.9" width="12.8" height="12.8"/><rect x="226.8" y="1841.8" width="12.8" height="12.8"/><rect x="259.2" y="1858.4" width="12.8" height="12.8"/><rect x="294.7" y="1878.6" width="12.8" height="12.8"/><rect x="328.5" y="1902.9" width="12.8" height="12.8"/><rect x="366.3" y="1983.2" width="12.8" height="12.8"/><rect x="417.5" y="2155.8" width="12.8" height="12.8"/></g>
<path fill="none" stroke="#ff00ff" stroke-width="1.3" stroke-linejoin="round" d="M95.1 1838.2L123.8 1794.1L148.8 1950.9L177.3 1785.2L202.8 1889.7L233.2 1909.9L265.6 1839.2L301.1 1889.1L334.9 1879.1L372.7 1975.4L423.9 2001.4"/>
<path fill="none" stroke="#ff00ff" stroke-width="1.4" d="M87.7 1838.2H102.5M95.1 1830.8V1845.6M90.1 1833.2L100.1 1843.2M90.1 1843.2L100.1 1833.2M116.4 1794.1H131.2M123.8 1786.7V1801.5M118.8 1789.1L128.8 1799.1M118.8 1799.1L128.8 1789.1M141.4 1950.9H156.2M148.8 1943.5V1958.3M143.8 1945.9L153.8 1955.9M143.8 1955.9L153.8 1945.9M169.9 1785.2H184.7M177.3 1777.8V1792.6M172.3 1780.2L182.3 1790.2M172.3 1790.2L182.3 1780.2M195.4 1889.7H210.2M202.8 1882.3V1897.1M197.8 1884.7L207.8 1894.7M197.8 1894.7L207.8 1884.7M225.8 1909.9H240.6M233.2 1902.5V1917.3M228.2 1904.9L238.2 1914.9M228.2 1914.9L238.2 1904.9M258.2 1839.2H273M265.6 1831.8V1846.6M260.6 1834.2L270.6 1844.2M260.6 1844.2L270.6 1834.2M293.7 1889.1H308.5M301.1 1881.7V1896.5M296.1 1884.1L306.1 1894.1M296.1 1894.1L306.1 1884.1M327.5 1879.1H342.3M334.9 1871.7V1886.5M329.9 1874.1L339.9 1884.1M329.9 1884.1L339.9 1874.1M365.3 1975.4H380.1M372.7 1968V1982.8M367.7 1970.4L377.7 1980.4M367.7 1980.4L377.7 1970.4M416.5 2001.4H431.3M423.9 1994V2008.8M418.9 1996.4L428.9 2006.4M418.9 2006.4L428.9 1996.4"/>
</g>
<g fill="#262626" font-size="23.5" text-anchor="end">
<text x="77.4" y="2192.1">26</text>
<text x="77.4" y="2131.8">27</text>
<text x="77.4" y="2071.6">28</text>
<text x="77.4" y="2011.4">29</text>
<text x="77.4" y="1951.1">30</text>
<text x="77.4" y="1890.9">31</text>
<text x="77.4" y="1830.6">32</text>
<text x="77.4" y="1770.4">33</text>
</g>
<g fill="#262626" font-size="23.5" text-anchor="middle">
<text x="86.4" y="2214">66</text>
<text x="169" y="2214">68</text>
<text x="251.9" y="2214">70</text>
<text x="334.9" y="2214">72</text>
<text x="417.8" y="2214">74</text>
<text x="500.4" y="2214">76</text>
</g>
<text fill="#262626" font-size="25.8" text-anchor="middle" transform="translate(38.9 1969.7) rotate(-90)">Salinity(PSU)</text>
<text fill="#262626" font-size="25.8" text-anchor="middle" x="293.6" y="2247.5">Latitude</text>
<text transform="translate(0.6 1754.7) scale(1 1.035)" font-size="30.0" font-weight="bold" fill="#000">G</text>
<path fill="none" stroke="#5a5a5a" stroke-width="1" d="M632.5 1760.8V2182.5"/>
<path fill="none" stroke="#262626" stroke-width="1.3" d="M631.9 2182.5H1046.4"/>
<path fill="none" stroke="#262626" stroke-width="1.3" d="M632.4 2182.5h5M632.4 2098.2h5M632.4 2013.8h5M632.4 1929.5h5M632.4 1845.1h5M632.4 1760.8h5M632.4 2182.5v-5M714.9 2182.5v-5M797 2182.5v-5M879.5 2182.5v-5M962.2 2182.5v-5M1045.9 2182.5v-5"/>
<g clip-path="url(#c7)">
<path fill="#cccccc" d="M641.1 1883.9L669.4 1800.3L694.2 1800.5L723.3 1801.8L748.4 1821.5L779 1802.8L810.8 1830.9L845.4 1826.7L879.5 1824.7L917.1 1893.3L969.4 1945.3L969.4 2083.5L917.1 1960.9L879.5 2025.3L845.4 1972.3L810.8 1929.7L779 1944.6L748.4 1995.2L723.3 1862.1L694.2 2045.1L669.4 1863.1L641.1 1885Z"/>
<path fill="none" stroke="#666666" stroke-width="1.1" stroke-linejoin="round" d="M641.1 1889.7L669.4 1831.3L694.2 1923.9L723.3 1827.2L748.4 1908.9L779 1873.5L810.8 1878.7L845.4 1899.9L879.5 1925.1L917.1 1926.6L969.4 2014.9"/>
<g fill="#666666"><circle cx="641.1" cy="1889.7" r="3.5"/><circle cx="669.4" cy="1831.3" r="3.5"/><circle cx="694.2" cy="1923.9" r="3.5"/><circle cx="723.3" cy="1827.2" r="3.5"/><circle cx="748.4" cy="1908.9" r="3.5"/><circle cx="779" cy="1873.5" r="3.5"/><circle cx="810.8" cy="1878.7" r="3.5"/><circle cx="845.4" cy="1899.9" r="3.5"/><circle cx="879.5" cy="1925.1" r="3.5"/><circle cx="917.1" cy="1926.6" r="3.5"/><circle cx="969.4" cy="2014.9" r="3.5"/></g>
<path fill="none" stroke="#0000ff" stroke-width="1.3" stroke-linejoin="round" d="M641.1 1856.9L669.4 1855.9L694.2 1852.3L723.3 1854.4L748.4 1859.4L779 1861.5L810.8 1871L845.4 1883.9L879.5 1903.7L917.1 1985.8L969.4 2175"/>
<g fill="#0000ff"><rect x="634.7" y="1850.5" width="12.8" height="12.8"/><rect x="663" y="1849.5" width="12.8" height="12.8"/><rect x="687.8" y="1845.9" width="12.8" height="12.8"/><rect x="716.9" y="1848" width="12.8" height="12.8"/><rect x="742" y="1853" width="12.8" height="12.8"/><rect x="772.6" y="1855.1" width="12.8" height="12.8"/><rect x="804.4" y="1864.6" width="12.8" height="12.8"/><rect x="839" y="1877.5" width="12.8" height="12.8"/><rect x="873.1" y="1897.3" width="12.8" height="12.8"/><rect x="910.7" y="1979.4" width="12.8" height="12.8"/><rect x="963" y="2168.6" width="12.8" height="12.8"/></g>
<path fill="none" stroke="#ff00ff" stroke-width="1.3" stroke-linejoin="round" d="M641.1 1864.2L669.4 1787.2L694.2 2002.9L723.3 1797L748.4 1946.7L779 1971.7L810.8 1882.9L845.4 1932.8L879.5 1916.2L917.1 1991L969.4 2016"/>
<path fill="none" stroke="#ff00ff" stroke-width="1.4" d="M633.7 1864.2H648.5M641.1 1856.8V1871.6M636.1 1859.2L646.1 1869.2M636.1 1869.2L646.1 1859.2M662 1787.2H676.8M669.4 1779.8V1794.6M664.4 1782.2L674.4 1792.2M664.4 1792.2L674.4 1782.2M686.8 2002.9H701.6M694.2 1995.5V2010.3M689.2 1997.9L699.2 2007.9M689.2 2007.9L699.2 1997.9M715.9 1797H730.7M723.3 1789.6V1804.4M718.3 1792L728.3 1802M718.3 1802L728.3 1792M741 1946.7H755.8M748.4 1939.3V1954.1M743.4 1941.7L753.4 1951.7M743.4 1951.7L753.4 1941.7M771.6 1971.7H786.4M779 1964.3V1979.1M774 1966.7L784 1976.7M774 1976.7L784 1966.7M803.4 1882.9H818.2M810.8 1875.5V1890.3M805.8 1877.9L815.8 1887.9M805.8 1887.9L815.8 1877.9M838 1932.8H852.8M845.4 1925.4V1940.2M840.4 1927.8L850.4 1937.8M840.4 1937.8L850.4 1927.8M872.1 1916.2H886.9M879.5 1908.8V1923.6M874.5 1911.2L884.5 1921.2M874.5 1921.2L884.5 1911.2M909.7 1991H924.5M917.1 1983.6V1998.4M912.1 1986L922.1 1996M912.1 1996L922.1 1986M962 2016H976.8M969.4 2008.6V2023.4M964.4 2011L974.4 2021M964.4 2021L974.4 2011"/>
</g>
<g fill="#262626" font-size="23.5" text-anchor="end">
<text x="623.4" y="2192.1">21</text>
<text x="623.4" y="2107.8">22</text>
<text x="623.4" y="2023.4">23</text>
<text x="623.4" y="1939.1">24</text>
<text x="623.4" y="1854.7">25</text>
<text x="623.4" y="1770.4">26</text>
</g>
<g fill="#262626" font-size="23.5" text-anchor="middle">
<text x="632.4" y="2214">66</text>
<text x="714.9" y="2214">68</text>
<text x="797" y="2214">70</text>
<text x="879.5" y="2214">72</text>
<text x="962.2" y="2214">74</text>
<text x="1045.9" y="2214">76</text>
</g>
<text fill="#262626" font-size="25.8" text-anchor="middle" transform="translate(584.6 1971.7) rotate(-90)">Density anomaly(kg/m<tspan font-size="21.5" dy="-12">3</tspan><tspan dy="12">)</tspan></text>
<text fill="#262626" font-size="25.8" text-anchor="middle" x="839.4" y="2247.5">Latitude</text>
<text transform="translate(548.9 1754.7) scale(1 1.035)" font-size="30.0" font-weight="bold" fill="#000">H</text>
<rect x="776.8" y="493.7" width="271.4" height="115.2" fill="#fff" stroke="#262626" stroke-width="1"/>
<rect x="784" y="500.6" width="73.2" height="20.2" fill="#cccccc"/>
<path d="M784 538.3H857.2" stroke="#666666" stroke-width="1.1"/><circle cx="820.6" cy="538.3" r="3.5" fill="#666666"/>
<path d="M784 564.6H857.2" stroke="#0000ff" stroke-width="1.3"/><rect x="814.2" y="558.7" width="12.8" height="12.8" fill="#0000ff"/>
<path d="M784 592H857.2" stroke="#ff00ff" stroke-width="1.3"/><path d="M813.2 592H828M820.6 584.6V599.4M815.6 587L825.6 597M815.6 597L825.6 587" stroke="#ff00ff" stroke-width="1.3" fill="none"/>
<g font-size="21.2" fill="#000">
<text x="862.8" y="519.0">Standard deviation</text>
<text x="862.8" y="546.4">Mean</text>
<text x="862.8" y="574.0">WOA2018</text>
<text x="862.8" y="599.7">2019</text>
</g>
</svg>
</body></html>
